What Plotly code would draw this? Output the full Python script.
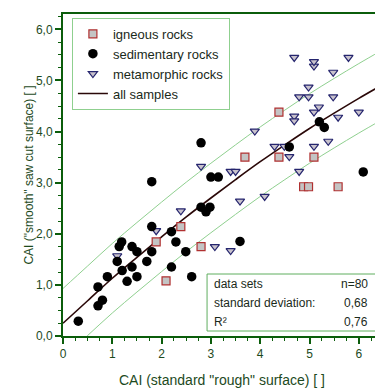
import plotly.graph_objects as go

# ---------------- data ----------------
igneous_x = [1.89, 2.39, 2.09, 2.80, 3.69, 4.38, 5.09, 4.38, 4.88, 4.98, 5.58]
igneous_y = [1.84, 2.14, 1.08, 1.75, 3.50, 3.50, 3.50, 4.38, 2.92, 2.92, 2.92]

sedimentary_x = [0.31, 0.71, 0.80, 0.71, 0.90, 1.30, 1.50, 1.20, 1.40, 1.10, 1.70,
                 1.14, 1.19, 1.40, 1.50, 1.80, 1.80, 2.20, 2.29, 2.49, 2.20, 2.61,
                 1.80, 2.80, 2.98, 2.90, 3.00, 3.15, 2.80, 3.59, 4.59, 5.20, 5.30, 6.09]
sedimentary_y = [0.29, 0.59, 0.70, 0.96, 1.16, 1.07, 1.16, 1.28, 1.35, 1.46, 1.46,
                 1.75, 1.84, 1.75, 1.65, 1.65, 2.14, 2.04, 1.84, 1.65, 1.35, 1.16,
                 3.02, 2.52, 2.52, 2.43, 3.11, 3.11, 3.78, 1.85, 3.70, 4.19, 4.08, 3.21]

metamorphic_x = [1.10, 1.89, 2.39, 2.80, 3.08, 3.40, 3.40, 3.50, 3.59, 4.09, 3.89,
                 4.29, 4.49, 4.59, 4.79, 5.09, 5.38, 4.69, 4.69, 5.09, 5.19, 5.58,
                 6.00, 4.79, 4.98, 5.48, 4.98, 5.48, 5.09, 5.09, 4.69, 5.79]
metamorphic_y = [1.57, 2.06, 2.45, 3.32, 1.75, 1.67, 3.22, 3.22, 2.64, 2.73, 4.01,
                 3.71, 3.71, 3.51, 3.22, 3.71, 3.81, 4.30, 4.21, 4.38, 4.48, 4.28,
                 4.38, 4.68, 4.68, 4.68, 4.87, 5.16, 5.28, 5.37, 5.45, 5.45]

fit_x = [0, 0.5, 1, 1.5, 2, 2.5, 3, 3.5, 4, 4.5, 5, 5.5, 6, 6.45]
fit_y = [0.25, 0.69, 1.13, 1.54, 1.94, 2.33, 2.70, 3.06, 3.41, 3.74, 4.06, 4.36, 4.65, 4.90]
upper_y = [0.93, 1.37, 1.81, 2.22, 2.62, 3.01, 3.38, 3.74, 4.09, 4.42, 4.74, 5.04, 5.33, 5.58]
lower_y = [-0.43, 0.01, 0.45, 0.86, 1.26, 1.65, 2.02, 2.38, 2.73, 3.06, 3.38, 3.68, 3.97, 4.22]

x_ticks = [0, 1, 2, 3, 4, 5, 6]
y_ticks = [0, 1, 2, 3, 4, 5, 6]

stats_labels = ["data sets", "standard deviation:", "R²"]
stats_values = ["n=80", "0,68", "0,76"]

# ---------------- styling ----------------
GREEN_AXIS = "#0b5d0b"
GREEN_TEXT = "#1d4a1d"
LIGHT_GREEN = "#8fd08f"
FONT = "Liberation Sans, Arial, sans-serif"

fig = go.Figure()

fig.add_trace(go.Scatter(x=fit_x, y=upper_y, mode="lines", line=dict(color=LIGHT_GREEN, width=1),
                         line_shape="spline", showlegend=False, hoverinfo="skip"))
fig.add_trace(go.Scatter(x=fit_x, y=lower_y, mode="lines", line=dict(color=LIGHT_GREEN, width=1),
                         line_shape="spline", showlegend=False, hoverinfo="skip"))
fig.add_trace(go.Scatter(x=fit_x, y=fit_y, mode="lines", name="all samples",
                         line=dict(color="#2a0808", width=1.6), line_shape="spline", legendrank=4))

fig.add_trace(go.Scatter(x=igneous_x, y=igneous_y, mode="markers", name="igneous rocks",
                         marker=dict(symbol="square", size=8, color="#c4c4c4",
                                     line=dict(color="#b03030", width=1.2)), legendrank=1))
fig.add_trace(go.Scatter(x=metamorphic_x, y=metamorphic_y, mode="markers", name="metamorphic rocks",
                         marker=dict(symbol="triangle-down", size=8, color="#c8c2cc",
                                     line=dict(color="#25256e", width=1.2)), legendrank=3))
fig.add_trace(go.Scatter(x=sedimentary_x, y=sedimentary_y, mode="markers", name="sedimentary rocks",
                         marker=dict(symbol="circle", size=9.5, color="#000000",
                                     line=dict(color="#000000", width=0)), legendrank=2))

# stats box
fig.add_shape(type="rect", xref="paper", yref="paper", x0=0.453, x1=0.997, y0=0.0155, y1=0.1925,
              line=dict(color="#5fae5f", width=1), fillcolor="white", layer="above")
rows_y = [0.1615, 0.1025, 0.0435]
for lab, val, yy in zip(stats_labels, stats_values, rows_y):
    fig.add_annotation(xref="paper", yref="paper", x=0.469, y=yy, text=lab, showarrow=False,
                       xanchor="left", yanchor="middle", font=dict(size=12, color="#1a2a1a", family=FONT))
    fig.add_annotation(xref="paper", yref="paper", x=0.966, y=yy, text=val, showarrow=False,
                       xanchor="right", yanchor="middle", font=dict(size=12, color="#1a2a1a", family=FONT))

axis_common = dict(
    showgrid=False, zeroline=False, showline=True, linecolor=GREEN_AXIS, linewidth=2,
    mirror=True, ticks="outside", ticklen=6, tickcolor=GREEN_AXIS, tickwidth=1.5,
    tickfont=dict(size=12, color=GREEN_TEXT, family=FONT),
    minor=dict(dtick=0.25, ticklen=3, tickcolor=GREEN_AXIS, ticks="outside", tickwidth=1),
)

# page body has an 8px margin: figure is sized so that it fills the 383x390 window
fig.update_layout(
    width=375, height=382,
    margin=dict(l=55, r=0, t=6, b=54),
    paper_bgcolor="white", plot_bgcolor="white",
    separators=",.",
    font=dict(family=FONT, color=GREEN_TEXT),
    xaxis=dict(range=[0, 6.45], tickvals=x_ticks, ticktext=[str(v) for v in x_ticks],
               title=dict(text='CAI (standard "rough" surface) [ ]', font=dict(size=14, color=GREEN_TEXT),
                          standoff=15),
               **axis_common),
    yaxis=dict(range=[0, 6.3], tickvals=y_ticks, tickformat=".1f",
               title=dict(text='CAI ("smooth" saw cut surface) [ ]', font=dict(size=12, color=GREEN_TEXT),
                          standoff=0),
               **axis_common),
    legend=dict(x=0.028, y=0.988, xanchor="left", yanchor="top",
                bordercolor=LIGHT_GREEN, borderwidth=1, bgcolor="white",
                font=dict(size=13, color="#1a2a1a", family=FONT),
                itemsizing="trace", tracegroupgap=0),
    showlegend=True,
)

fig.write_html("out.html")
